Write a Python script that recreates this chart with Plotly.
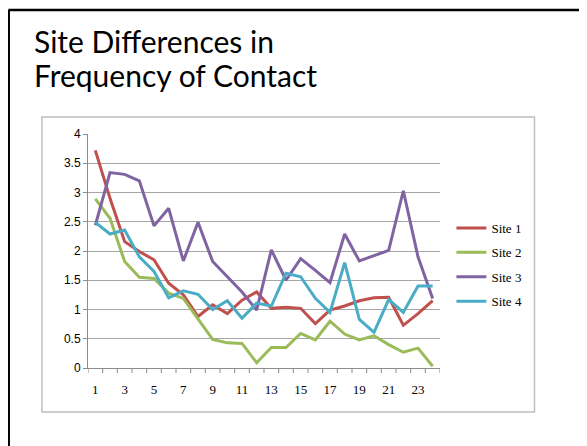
import plotly.graph_objects as go

categories = list(range(1, 25))
tick_labels = [str(c) if c % 2 == 1 else "" for c in categories]

site1 = [3.72, 2.90, 2.16, 1.99, 1.85, 1.45, 1.25, 0.88, 1.08, 0.93, 1.16, 1.30,
         1.02, 1.04, 1.02, 0.76, 0.99, 1.06, 1.15, 1.20, 1.21, 0.73, 0.93, 1.15]
site2 = [2.89, 2.56, 1.82, 1.55, 1.53, 1.28, 1.19, 0.85, 0.49, 0.43, 0.42, 0.09,
         0.35, 0.35, 0.59, 0.48, 0.80, 0.58, 0.48, 0.55, 0.40, 0.27, 0.34, 0.03]
site3 = [2.44, 3.34, 3.31, 3.20, 2.43, 2.73, 1.83, 2.49, 1.82, 1.56, 1.30, 0.99,
         2.02, 1.50, 1.87, 1.67, 1.46, 2.29, 1.83, 1.92, 2.01, 3.03, 1.90, 1.19]
site4 = [2.49, 2.29, 2.36, 1.90, 1.65, 1.20, 1.32, 1.26, 1.00, 1.15, 0.85, 1.11,
         1.06, 1.62, 1.56, 1.19, 0.95, 1.80, 0.83, 0.61, 1.17, 0.95, 1.40, 1.40]

series = [("Site 1", site1, "#C0504D"), ("Site 2", site2, "#9BBB59"),
          ("Site 3", site3, "#8064A2"), ("Site 4", site4, "#4BACC6")]

OFF = 8  # page body margin
W, H = 587, 446
L, R, T, B = 88 - OFF, 439.6 - OFF, 134 - OFF, 368 - OFF
PW, PH = R - L, B - T


def px(xs):  # screen x -> paper x
    return (xs - OFF - L) / PW


def py(ys):  # screen y -> paper y
    return (B - (ys - OFF)) / PH


fig = go.Figure()
for i, (name, vals, col) in enumerate(series):
    fig.add_trace(go.Scatter(x=categories, y=vals, mode="lines", name=name,
                             line=dict(color=col, width=3), legendgroup=f"g{i}"))

fig.update_layout(
    width=W, height=H,
    margin=dict(l=L, r=W - R, t=T, b=H - B, pad=0),
    paper_bgcolor="white", plot_bgcolor="white",
    showlegend=True,
    legend=dict(x=px(451), xanchor="left", y=py(213), yanchor="top",
                font=dict(family="Liberation Serif", size=13, color="black"),
                tracegroupgap=4.5, bgcolor="rgba(0,0,0,0)"),
    xaxis=dict(range=[0.5, 24.5], tickmode="array", tickvals=categories, ticktext=tick_labels,
               showgrid=False, zeroline=False, showline=True, linecolor="#8c8c8c", linewidth=1,
               ticks="", ticklabelstandoff=9,
               tickfont=dict(family="Liberation Serif", size=13, color="black"),
               fixedrange=True),
    yaxis=dict(range=[0, 4], dtick=0.5, showgrid=True, gridcolor="#a6a6a6", gridwidth=1,
               zeroline=False, showline=True, linecolor="#8c8c8c", linewidth=1,
               ticks="outside", ticklen=4, tickcolor="#8c8c8c",
               tickfont=dict(family="Liberation Sans", size=12, color="black"),
               fixedrange=True),
    font=dict(family="Lato", color="black"),
)

# category boundary tick marks on the x axis
for k in range(25):
    fig.add_shape(type="line", xref="x", yref="paper", x0=0.5 + k, x1=0.5 + k,
                  y0=0, y1=-5 / PH, line=dict(color="#8c8c8c", width=1))

# chart box
fig.add_shape(type="rect", xref="paper", yref="paper",
              x0=px(42), x1=px(534), y0=py(412), y1=py(117),
              line=dict(color="#bfbfbf", width=1.5), layer="below")

# slide border (top and left)
fig.add_shape(type="line", xref="paper", yref="paper",
              x0=px(8.5), x1=px(620), y0=py(10), y1=py(10),
              line=dict(color="black", width=2.5))
fig.add_shape(type="line", xref="paper", yref="paper",
              x0=px(8.8), x1=px(8.8), y0=py(10), y1=py(480),
              line=dict(color="black", width=2.5))

fig.add_annotation(text="Site Differences in", xref="paper", yref="paper",
                   x=px(32), y=py(41.3), xanchor="left", yanchor="middle",
                   showarrow=False, font=dict(family="Lato", size=30, color="black"))
fig.add_annotation(text="Frequency of Contact", xref="paper", yref="paper",
                   x=px(32), y=py(74.5), xanchor="left", yanchor="middle",
                   showarrow=False, font=dict(family="Lato", size=30, color="black"))

fig.write_html("out.html")
